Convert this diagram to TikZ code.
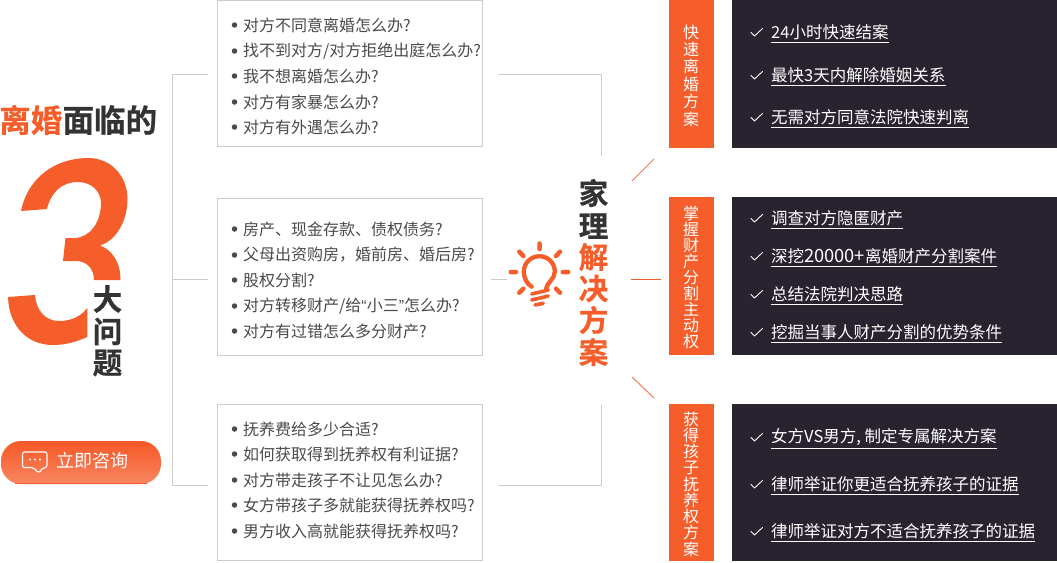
\documentclass[tikz,border=0pt]{standalone}
\usepackage{fontspec}
\setmainfont{Noto Sans CJK SC}
\newfontfamily\boldcjk{Noto Sans CJK SC Bold}[FakeBold=0.6]
\newfontfamily\latinq{Liberation Sans}
\usetikzlibrary{calc}
\definecolor{orng}{HTML}{F55D2A}
\definecolor{darkp}{HTML}{28232F}
\definecolor{grayl}{HTML}{CCCCCC}
\definecolor{txt}{HTML}{4A4A4A}
\definecolor{headd}{HTML}{333333}
\tikzset{
 qbox/.style={draw=grayl,line width=1pt,fill=white,minimum width=265pt,anchor=north west,inner sep=0pt,outer sep=0pt},
 darkbox/.style={fill=darkp,draw=none,minimum width=325pt,anchor=north west,inner sep=0pt,outer sep=0pt},
 orbox/.style={fill=orng,draw=none,minimum width=44.5pt,anchor=north west,inner sep=0pt,outer sep=0pt},
 ques/.style={text=txt,font=\fontsize{16pt}{17pt}\selectfont,anchor=west,inner sep=0pt},
 dotm/.style={circle,fill=txt,minimum size=5.5pt,inner sep=0pt},
 tick/.style={draw=white,line width=.9pt,line cap=round,line join=round},
 ans/.style={text=white,font=\fontsize{16.5pt}{17pt}\selectfont,anchor=west,inner sep=0pt,inner ysep=2pt},
 vert/.style={text=white,font=\fontsize{16pt}{17pt}\selectfont,inner sep=0pt},
 glink/.style={draw=grayl,line width=1pt},
 olink/.style={draw=orng!80,line width=1pt},
 head/.style={font=\boldcjk\fontsize{31.5pt}{32pt}\selectfont,inner sep=0pt},
 headv/.style={font=\boldcjk\fontsize{29.5pt}{32pt}\selectfont,inner sep=0pt},
}
\newcommand\qitem[3]{\node[dotm] (d#1) at (234.5,#2) {}; \node[ques] (t#1) at (243,#2) {#3};}
\newcommand\aitem[3]{%
 \draw[tick] (751,#2) ++(0,0.5) -- ++(3.5,3.5) -- ++(8,-7.5);
 \node[ans] (n#1) at (771,#2) {#3};
 \draw[white,line width=.8pt] ($(n#1.south west)+(0,0.5)$) -- ($(n#1.south east)+(0,0.5)$);}
\begin{document}
\begin{tikzpicture}[x=1pt,y=-1pt]
\useasboundingbox (0,0) rectangle (1057,562);
% left bracket
\coordinate (bt) at (172,74); \coordinate (bm) at (172,279); \coordinate (bb) at (172,485);
\coordinate (bte) at (208,74); \coordinate (bme) at (208,279); \coordinate (bbe) at (208,485);
\draw[glink] (bte) -- (bt) -- (bb) -- (bbe);
\draw[glink] (bm) -- (bme);
% question boxes
\node[qbox,minimum height=146pt] (q1) at (217.5,0.5) {};
\node[qbox,minimum height=156.5pt] (q2) at (217.5,198.5) {};
\node[qbox,minimum height=156pt] (q3) at (217.5,404.5) {};
% right connectors
\coordinate (rt1) at (499,74.5); \coordinate (rt2) at (601,74.5); \coordinate (rt3) at (601,155.5);
\coordinate (rb1) at (499,485); \coordinate (rb2) at (601,485); \coordinate (rb3) at (601,405);
\coordinate (rm1) at (491,279.5); \coordinate (rm2) at (507,279.5);
\draw[glink] (rt1) -- (rt2) -- (rt3);
\draw[glink] (rb1) -- (rb2) -- (rb3);
\draw[glink] (rm1) -- (rm2);
% orange connectors
\coordinate (o1a) at (632,181); \coordinate (o1b) at (654,159);
\coordinate (o2a) at (631,279.5); \coordinate (o2b) at (661,279.5);
\coordinate (o3a) at (632,377); \coordinate (o3b) at (654,398);
\draw[olink] (o1a) -- (o1b); \draw[olink,draw=orng] (o2a) -- (o2b); \draw[olink] (o3a) -- (o3b);
% questions
\qitem{1}{25}{对方不同意离婚怎么办?}
\qitem{2}{51}{找不到对方/对方拒绝出庭怎么办?}
\qitem{3}{76}{我不想离婚怎么办?}
\qitem{4}{102}{对方有家暴怎么办?}
\qitem{5}{127}{对方有外遇怎么办?}
\qitem{6}{229}{房产、现金存款、债权债务?}
\qitem{7}{255}{父母出资购房，婚前房、婚后房?}
\qitem{8}{280}{股权分割?}
\qitem{9}{306}{对方转移财产/给{\latinq “}小三{\latinq ”}怎么办?}
\qitem{10}{331}{对方有过错怎么多分财产?}
\qitem{11}{429}{抚养费给多少合适?}
\qitem{12}{454}{如何获取得到抚养权有利证据?}
\qitem{13}{480}{对方带走孩子不让见怎么办?}
\qitem{14}{505}{女方带孩子多就能获得抚养权吗?}
\qitem{15}{531}{男方收入高就能获得抚养权吗?}
% headline
\node[head,anchor=west,text=orng] (h1) at (-1,120) {离婚};
\node[head,anchor=west,text=headd] (h2) at (h1.east) {面临的};
% big three
\fill[orng] (21,211)
 .. controls (28,177) and (56,158) .. (88,158)
 .. controls (112,158) and (127.5,177) .. (127.5,199)
 .. controls (127.5,220) and (117,240) .. (100,245.5)
 .. controls (112,250) and (120.5,262) .. (120.5,280)
 -- (94,280)
 .. controls (94,268) and (86,261) .. (76,261)
 -- (63,261)
 -- (65.5,238)
 -- (74,238)
 .. controls (90,238) and (101,222) .. (101,203)
 .. controls (101,191) and (91,182) .. (78,182)
 .. controls (62,182) and (51,192) .. (47,209) -- cycle;
\fill[orng] (8,297)
 -- (35,295)
 .. controls (36,310) and (45,321) .. (59,321)
 .. controls (72,321) and (81,316) .. (87.3,308)
 -- (87.3,337)
 .. controls (76,342) and (65,345) .. (53,345)
 .. controls (27,345) and (9,326) .. (8,297) -- cycle;
% 大问题
\node[headv,text=headd] (h3a) at (107.5,299) {大};
\node[headv,text=headd] (h3b) at (107.5,331.5) {问};
\node[headv,text=headd] (h3c) at (107.5,363) {题};
% button
\shade[top color=orng!95!red,bottom color=orng!70!white!85!orng,rounded corners=20pt] (1,441) rectangle (161,484);
\draw[orng,line width=.8pt] (15,483.5) -- (147,483.5);
\node[text=white,font=\fontsize{18pt}{19pt}\selectfont,anchor=west,inner sep=0pt] (btn) at (56,461) {立即咨询};
\draw[white,line width=1.1pt,line join=round,rounded corners=2pt] (22.5,452) -- (47,452) -- (47,467.5) -- (43,467.5) -- (39,473) -- (33,467.5) -- (22.5,467.5) -- cycle;
\foreach \x in {30,35,40}{\fill[white] (\x,459.5) circle (1.1pt);}
% bulb
\draw[orng,line width=4.3pt,line cap=round,line join=round]
 (531.7,286.7) .. controls (527,284) and (523.8,278) .. (523.8,271.7)
 .. controls (523.8,263) and (531,256.2) .. (539.3,256.2)
 .. controls (548,256.2) and (554.8,263) .. (554.8,271.7)
 .. controls (554.8,279) and (548,281) .. (546,289);
\draw[orng,line width=3.6pt,line cap=round] (531.7,294) -- (548.3,290) (531.7,300) -- (548.3,296) (535,305) -- (543.3,303.3);
\draw[orng,line width=4.5pt,line cap=round] (539.5,243.5) -- (539.5,249)
 (519.3,251.7) -- (523.3,256) (560,251.7) -- (556,256)
 (510.7,272) -- (516,272) (562.7,272) -- (568.3,272)
 (519.3,292.7) -- (523.3,288.7) (560,292.7) -- (556,288.7);
% side head
\node[headv,text=headd] (s1) at (593.5,193) {家};
\node[headv,text=headd] (s2) at (593.5,226) {理};
\node[headv,text=orng] (s3) at (593.5,257) {解};
\node[headv,text=orng] (s4) at (593.5,288.5) {决};
\node[headv,text=orng] (s5) at (593.5,320) {方};
\node[headv,text=orng] (s6) at (593.5,352) {案};
% orange boxes
\node[orbox,minimum height=147.5pt] (a1) at (669,0) {};
\node[orbox,minimum height=157.5pt] (a2) at (669,197) {};
\node[orbox,minimum height=157pt] (a3) at (669,404) {};
\foreach \c [count=\i from 0] in {快,速,离,婚,方,案}{\node[vert] (ax\i) at (691,32+17.4*\i) {\c};}
\foreach \c [count=\i from 0] in {掌,握,财,产,分,割,主,动,权}{\node[vert] (ay\i) at (691,213+16.1*\i) {\c};}
\foreach \c [count=\i from 0] in {获,得,孩,子,抚,养,权,方,案}{\node[vert] (az\i) at (691,419+16.25*\i) {\c};}
% dark boxes
\node[darkbox,minimum height=147.5pt] (b1) at (732,0) {};
\node[darkbox,minimum height=157.5pt] (b2) at (732,197) {};
\node[darkbox,minimum height=157pt] (b3) at (732,404) {};
\aitem{1}{32}{24小时快速结案}
\aitem{2}{75}{最快3天内解除婚姻关系}
\aitem{3}{117}{无需对方同意法院快速判离}
\aitem{4}{218}{调查对方隐匿财产}
\aitem{5}{256}{深挖{\fontsize{18.3pt}{17pt}\selectfont 20000+}离婚财产分割案件}
\aitem{6}{294}{总结法院判决思路}
\aitem{7}{332}{挖掘当事人财产分割的优势条件}
\aitem{8}{437}{女方VS男方, 制定专属解决方案}
\aitem{9}{484}{律师举证你更适合抚养孩子的证据}
\aitem{10}{531}{律师举证对方不适合抚养孩子的证据}
\end{tikzpicture}
\end{document}
